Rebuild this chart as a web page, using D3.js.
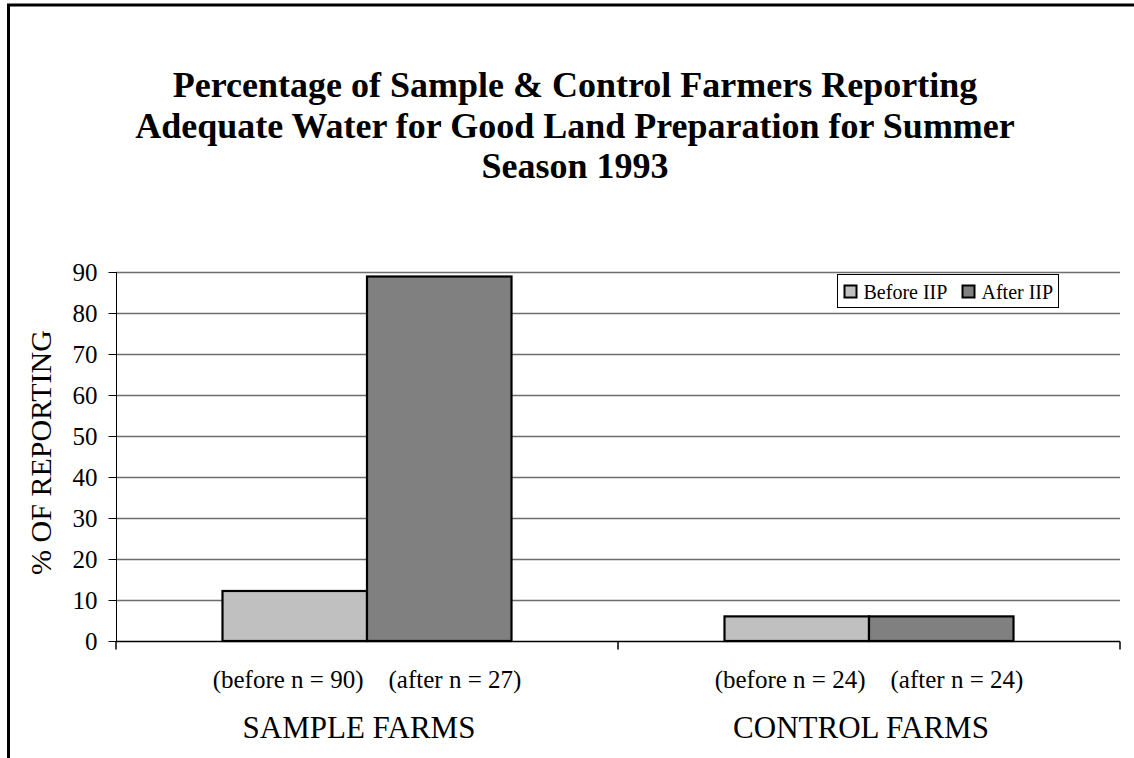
<!DOCTYPE html>
<html>
<head>
<meta charset="utf-8">
<script src="https://cdn.jsdelivr.net/npm/d3@7"></script>
<style>
  html, body { margin: 0; padding: 0; background: #fff; }
  svg { display: block; }
  text { font-family: "Liberation Serif", "Times New Roman", serif; fill: #000; }
</style>
</head>
<body>
<svg id="chart" width="1134" height="758"></svg>
<script>
// Farm groups and the two survey periods
const groups = ["SAMPLE FARMS", "CONTROL FARMS"];
const series = ["Before IIP", "After IIP"];
const beforeValues = [12.2, 6.0];
const afterValues = [88.9, 6.0];
const sampleSizes = ["(before n = 90)    (after n = 27)", "(before n = 24)    (after n = 24)"];
const yTicks = [0, 10, 20, 30, 40, 50, 60, 70, 80, 90];
const titleLines = [
  "Percentage of Sample & Control Farmers Reporting",
  "Adequate Water for Good Land Preparation for Summer",
  "Season 1993"
];
const seriesColors = ["#c0c0c0", "#808080"];

const svg = d3.select("#chart");
const W = 1134, H = 758;
const plot = { left: 116, right: 1120, top: 272, bottom: 641 };

// outer frame (top and left edges)
svg.append("path")
  .attr("d", `M8.5,${H} V5 H${W}`)
  .attr("fill", "none")
  .attr("stroke", "#000")
  .attr("stroke-width", 3);

// title
svg.append("g").selectAll("text")
  .data(titleLines)
  .join("text")
  .attr("x", 575)
  .attr("y", (d, i) => 97 + i * 40.5)
  .attr("text-anchor", "middle")
  .attr("font-weight", "bold")
  .attr("font-size", 36)
  .text(d => d);

const x0 = d3.scaleBand().domain(groups).range([plot.left, plot.right]).paddingInner(0).paddingOuter(0);
const x1 = d3.scaleBand().domain(series).range([0, x0.bandwidth()]).paddingInner(0).paddingOuter(0.737);
const y = d3.scaleLinear().domain([0, 90]).range([plot.bottom, plot.top]);

// horizontal gridlines
svg.append("g").selectAll("line")
  .data(yTicks.filter(t => t > 0))
  .join("line")
  .attr("x1", plot.left).attr("x2", plot.right)
  .attr("y1", d => Math.round(y(d)) + 0.5).attr("y2", d => Math.round(y(d)) + 0.5)
  .attr("stroke", "#6e6e6e").attr("stroke-width", 1.3);

// y axis
const yAxis = svg.append("g")
  .attr("transform", `translate(${plot.left + 0.5},0)`)
  .call(d3.axisLeft(y).tickValues(yTicks).tickSize(8).tickPadding(11).tickFormat(d3.format("d")));
yAxis.select(".domain").attr("stroke", "#000").attr("d", `M0,${plot.top}V${plot.bottom}`);
yAxis.selectAll(".tick line").attr("stroke", "#000");
yAxis.selectAll(".tick text")
  .attr("font-family", "Liberation Serif, serif").attr("font-size", 25).attr("fill", "#000");

// x axis baseline with category separators
const xAxis = svg.append("g")
  .attr("transform", `translate(0,${plot.bottom + 0.5})`);
xAxis.append("line")
  .attr("x1", plot.left).attr("x2", plot.right)
  .attr("stroke", "#000").attr("stroke-width", 1.3);
const edges = [plot.left, ...groups.map(g => x0(g) + x0.bandwidth())];
xAxis.selectAll("line.sep")
  .data(edges)
  .join("line")
  .attr("class", "sep")
  .attr("x1", d => d).attr("x2", d => d)
  .attr("y1", 0).attr("y2", 8)
  .attr("stroke", "#000").attr("stroke-width", 1.5);

// bars
const rows = groups.map((g, i) => ({ group: g, values: [beforeValues[i], afterValues[i]] }));
const barG = svg.append("g").selectAll("g")
  .data(rows)
  .join("g")
  .attr("transform", d => `translate(${x0(d.group)},0)`);
barG.selectAll("rect")
  .data(d => d.values.map((v, j) => ({ key: series[j], value: v, j })))
  .join("rect")
  .attr("x", d => x1(d.key))
  .attr("width", x1.bandwidth())
  .attr("y", d => y(d.value))
  .attr("height", d => y(0) - y(d.value))
  .attr("fill", d => seriesColors[d.j])
  .attr("stroke", "#000")
  .attr("stroke-width", 2.2);

// sample size lines under each group
svg.append("g").selectAll("text")
  .data(groups)
  .join("text")
  .attr("x", g => x0(g) + x0.bandwidth() / 2)
  .attr("y", 688)
  .attr("text-anchor", "middle")
  .attr("font-size", 25)
  .style("white-space", "pre")
  .text((g, i) => sampleSizes[i]);

// group labels
svg.append("g").selectAll("text")
  .data(groups)
  .join("text")
  .attr("x", g => x0(g) + x0.bandwidth() / 2 - 8)
  .attr("y", 738)
  .attr("text-anchor", "middle")
  .attr("font-size", 31)
  .text(g => g);

// y axis title
svg.append("text")
  .attr("transform", `translate(51,${(plot.top + plot.bottom) / 2 - 4}) rotate(-90)`)
  .attr("text-anchor", "middle")
  .attr("font-size", 30)
  .text("% OF REPORTING");

// legend
const legend = svg.append("g").attr("transform", "translate(837.5,274.5)");
legend.append("rect")
  .attr("width", 221).attr("height", 33)
  .attr("fill", "#fff").attr("stroke", "#000").attr("stroke-width", 1);
const items = legend.selectAll("g.item")
  .data(series)
  .join("g")
  .attr("class", "item")
  .attr("transform", (d, i) => `translate(${i === 0 ? 7 : 125},11)`);
items.append("rect")
  .attr("width", 12).attr("height", 12)
  .attr("fill", (d, i) => seriesColors[i])
  .attr("stroke", "#000").attr("stroke-width", 2);
items.append("text")
  .attr("x", 19).attr("y", 13)
  .attr("font-size", 20)
  .text(d => d);
</script>
</body>
</html>
